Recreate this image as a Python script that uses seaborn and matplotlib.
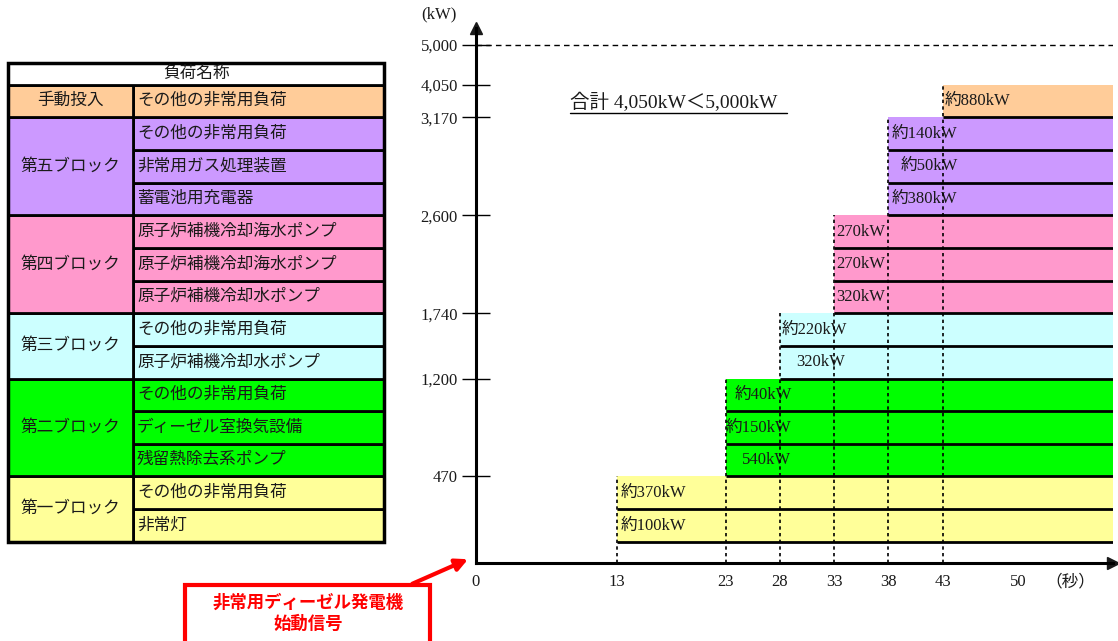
import numpy as np
import matplotlib.pyplot as plt
from matplotlib.patches import Rectangle
import seaborn as sns

sns.set_theme(style="white")
plt.rcParams["font.family"] = ["Liberation Serif", "Noto Sans CJK JP"]

# blocks, bottom to top
blocks = ["第一ブロック", "第二ブロック", "第三ブロック", "第四ブロック", "第五ブロック", "手動投入"]
block_start = [13, 23, 28, 33, 38, 43]
block_colors = ["#FFFF99", "#00FF00", "#CCFFFF", "#FF99CC", "#CC99FF", "#FFCC99"]

# individual loads, bottom to top
load_block = [0, 0, 1, 1, 1, 2, 2, 3, 3, 3, 4, 4, 4, 5]
load_names = ["非常灯", "その他の非常用負荷",
              "残留熱除去系ポンプ", "ディーゼル室換気設備", "その他の非常用負荷",
              "原子炉補機冷却水ポンプ", "その他の非常用負荷",
              "原子炉補機冷却水ポンプ", "原子炉補機冷却海水ポンプ", "原子炉補機冷却海水ポンプ",
              "蓄電池用充電器", "非常用ガス処理装置", "その他の非常用負荷",
              "その他の非常用負荷"]
load_kw = [100, 370, 540, 150, 40, 320, 220, 320, 270, 270, 380, 50, 140, 880]
load_approx = [True, True, False, True, True, False, True,
               False, False, False, True, True, True, True]

capacity_kw = 5000
x_ticks = [0, 13, 23, 28, 33, 38, 43, 50]

# layout (chart is drawn in time x "row" units, not to kW scale)
base = 0.65
x_end = 58.7
y_top = 16.39
cap_gap = 1.22
label_pad = [0.3, 0.3, 1.5, 0.0, 0.8, 1.5, 0.2, 0.2, 0.2, 0.2, 0.3, 1.1, 0.3, 0.2]
TXT = "#1a1a1a"

fig = plt.figure(figsize=(11.18, 6.41), dpi=100)
ax = fig.add_axes([476 / 1118, 78 / 641, 637 / 1118, 535 / 641])
tab = fig.add_axes([8 / 1118, 78 / 641, 376 / 1118, 535 / 641])

n = len(load_kw)
starts = np.array([block_start[b] for b in load_block])
rows = base + np.arange(n)
colors = [block_colors[b] for b in load_block]
cum_rows = [sum(1 for b in load_block if b <= k) for k in range(len(blocks))]
cum_kw = np.cumsum(load_kw)
cap_row = base + n + cap_gap

# bands
ax.barh(rows, x_end - starts, left=starts, height=1.0, align="edge",
        color=colors, linewidth=0, zorder=1)
ax.hlines(rows, starts, x_end, color="black", lw=2, zorder=3)
for i in range(n):
    txt = ("約" if load_approx[i] else "") + f"{load_kw[i]}kW"
    ax.text(starts[i] + label_pad[i], rows[i] + 0.5, txt, va="center", ha="left",
            fontsize=12, color=TXT, zorder=4)

# start-time markers
for k, t in enumerate(block_start):
    ax.vlines(t, 0, base + cum_rows[k], colors="black", linestyles=(0, (2, 2)),
              lw=1.2, zorder=5)

# capacity line
ax.hlines(cap_row, 0, x_end, color="black", lw=1, linestyles=(0, (4, 3)), zorder=2)

ax.set_xlim(0, x_end)
ax.set_ylim(0, y_top)
sns.despine(ax=ax)
for s in ["left", "bottom"]:
    ax.spines[s].set_linewidth(2.2)
    ax.spines[s].set_color("black")
ax.plot(1, 0, ">k", ms=8, transform=ax.get_yaxis_transform(), clip_on=False)
ax.plot(0, 1, "^k", ms=8, transform=ax.get_xaxis_transform(), clip_on=False)

ytick_pos = [base + r for r in cum_rows] + [cap_row]
ytick_lab = [f"{cum_kw[r - 1]:,}" for r in cum_rows] + [f"{capacity_kw:,}"]
ax.set_yticks(ytick_pos, labels=ytick_lab)
ax.set_xticks(x_ticks, labels=[str(v) for v in x_ticks])
ax.tick_params(axis="y", left=True, direction="inout", length=20, width=1,
               pad=3, labelsize=12, color="black", labelcolor=TXT)
ax.tick_params(axis="x", bottom=False, length=0, pad=8, labelsize=12, labelcolor=TXT)
ax.text(54.8, -0.58, "（秒）", ha="center", va="center", fontsize=12, color=TXT)
ax.text(-3.4, 16.8, "(kW)", ha="center", va="center", fontsize=12, color=TXT, clip_on=False)

# total annotation
total = int(cum_kw[-1])
ax.text(8.7, 14.12, f"合計 {total:,}kW＜{capacity_kw:,}kW", ha="left", va="center",
        fontsize=14, color=TXT)
ax.plot([8.66, 28.66], [13.8, 13.8], color="black", lw=1)

# start signal callout
ax.add_patch(Rectangle((-26.8, -2.5), 22.6, 1.83, fc="white", ec="red", lw=3,
                       clip_on=False, zorder=6))
ax.text(-15.5, -1.55, "非常用ディーゼル発電機\n始動信号", ha="center", va="center",
        fontsize=12.5, fontweight="bold", color="red", linespacing=1.25,
        zorder=7, clip_on=False)
ax.annotate("", xy=(-0.5, 0.15), xytext=(-6.1, -0.67),
            arrowprops=dict(arrowstyle="-|>", color="red", lw=3, mutation_scale=18),
            annotation_clip=False, zorder=7)

# left table
tab.set_xlim(0, 1)
tab.set_ylim(0, y_top)
tab.axis("off")
split = 0.332
for i in range(n):
    tab.add_patch(Rectangle((split, rows[i]), 1 - split, 1, fc=colors[i], ec="black",
                            lw=2, clip_on=False))
    tab.text(split + 0.011, rows[i] + 0.5, load_names[i], va="center", ha="left",
             fontsize=12, color=TXT)
prev = 0
for k, name in enumerate(blocks):
    h = cum_rows[k] - prev
    tab.add_patch(Rectangle((0, base + prev), split, h, fc=block_colors[k], ec="black",
                            lw=2, clip_on=False))
    tab.text(split / 2, base + prev + h / 2, name, ha="center", va="center",
             fontsize=12, color=TXT)
    prev = cum_rows[k]
tab.add_patch(Rectangle((0, base + n), 1, 0.675, fc="white", ec="black", lw=2, clip_on=False))
tab.text(0.5, base + n + 0.34, "負荷名称", ha="center", va="center", fontsize=12, color=TXT)
tab.add_patch(Rectangle((0, base), 1, n + 0.675, fill=False, ec="black", lw=2.5, clip_on=False))

fig.savefig("out.png", dpi=100)
